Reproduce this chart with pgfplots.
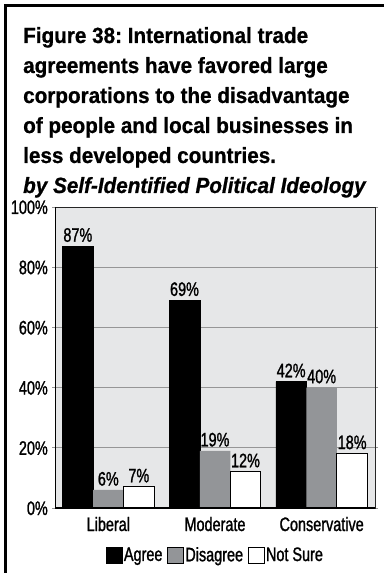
\documentclass[border=0pt]{standalone}
\usepackage{pgfplots}
\pgfplotsset{compat=1.18}
\usepackage{fontspec}
\setmainfont{Liberation Sans}
\newfontfamily\cond[FakeStretch=0.74, FakeBold=1.2]{Liberation Sans}
\newfontfamily\titlefont[FakeStretch=0.94, FakeBold=0.8]{Liberation Sans}
\definecolor{axbg}{RGB}{230,231,232}
\definecolor{disg}{RGB}{147,149,152}
\definecolor{gridc}{RGB}{150,150,150}
\newcommand{\cf}{\cond\fontsize{19.5}{21}\selectfont}
\newcommand{\tf}{\titlefont\bfseries\fontsize{22}{30}\selectfont\frenchspacing}
\begin{document}
\begin{tikzpicture}
\useasboundingbox (0pt,0pt) rectangle (384pt,573pt);
\fill[white] (0pt,0pt) rectangle (384pt,573pt);
\draw[line width=2.7pt] (5.5pt,0pt) -- (5.5pt,567.5pt) -- (384pt,567.5pt);
\node[anchor=base west, inner sep=0pt] at (23pt,530pt) {\tf Figure 38: International trade};
\node[anchor=base west, inner sep=0pt] at (23pt,500pt) {\tf agreements have favored large};
\node[anchor=base west, inner sep=0pt] at (23pt,470pt) {\tf corporations to the disadvantage};
\node[anchor=base west, inner sep=0pt] at (23pt,440pt) {\tf of people and local businesses in};
\node[anchor=base west, inner sep=0pt] at (23pt,410pt) {\tf less developed countries.};
\node[anchor=base west, inner sep=0pt] at (23pt,380pt) {\tf\itshape by Self-Identified Political Ideology};
\begin{axis}[
  at={(55pt,65pt)}, anchor=south west,
  scale only axis, width=320pt, height=301pt,
  ybar=0pt, bar width=30.5pt,
  xmin=-0.5, xmax=2.5, ymin=0, ymax=100,
  xtick={0,1,2}, xticklabels={Liberal,Moderate,Conservative},
  ytick={0,20,40,60,80,100}, yticklabels={0\%,20\%,40\%,60\%,80\%,100\%},
  ymajorgrids, grid style={gridc, line width=0.8pt},
  axis background/.style={fill=axbg},
  axis line style={black!85, line width=0.9pt},
  tick align=outside, major tick length=3pt,
  xtick style={draw=none}, ytick style={gridc, line width=0.8pt},
  ticklabel style={font=\cf},
  yticklabel style={anchor=base east, inner sep=0pt, xshift=-4pt, yshift=-7pt},
  xticklabel style={anchor=base, inner sep=0pt, yshift=-20pt},
  /pgf/number format/assume math mode=true,
  nodes near coords={\pgfmathprintnumber{\pgfplotspointmeta}\%},
  nodes near coords style={font=\cf, anchor=south, inner sep=0pt, yshift=4pt, black},
  legend style={at={(0.5,-0.156)}, anchor=center, draw=none, fill=none,
    font=\cf, inner sep=0pt, legend columns=3,
    /tikz/every even column/.append style={column sep=3pt},
    nodes={inner sep=1.5pt}},
  legend image code/.code={\draw[#1, draw=black, line width=0.9pt] (0pt,-8pt) rectangle (16pt,8pt);},
]
\addplot[fill=black, draw=black] coordinates {(0,87) (1,69) (2,42)};
\addplot[fill=disg, draw=none] coordinates {(0,6) (1,19) (2,40)};
\addplot[fill=white, draw=black, line width=1pt] coordinates {(0,7) (1,12) (2,18)};
\legend{Agree,Disagree,Not Sure}
\draw[line width=1.6pt, black] (rel axis cs:0,1) -- (rel axis cs:0,0) -- (rel axis cs:1,0);
\end{axis}
\end{tikzpicture}
\end{document}
